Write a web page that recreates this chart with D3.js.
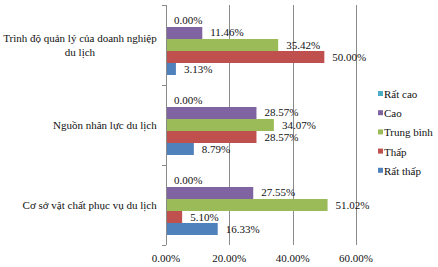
<!DOCTYPE html>
<html><head><meta charset="utf-8">
<script src="https://cdn.jsdelivr.net/npm/d3@7"></script>
<style>body{margin:0;background:#fff}svg{display:block}svg text{font-family:"Liberation Serif","Times New Roman",Times,serif;font-size:11px;fill:#111}</style>
</head><body><svg id="c" width="438" height="267"></svg>
<script>
const categories = ["Trình độ quản lý của doanh nghiệp du lịch", "Nguồn nhân lực du lịch", "Cơ sở vật chất phục vụ du lịch"];
const categoryLines = [["Trình độ quản lý của doanh nghiệp", "du lịch"], ["Nguồn nhân lực du lịch"], ["Cơ sở vật chất phục vụ du lịch"]];
const seriesNames = ["Rất cao", "Cao", "Trung bình", "Thấp", "Rất thấp"];
const seriesColors = ["#4BACC6", "#8064A2", "#9BBB59", "#C0504D", "#4F81BD"];
const ratCao = [0.00, 0.00, 0.00];
const cao = [11.46, 28.57, 27.55];
const trungBinh = [35.42, 34.07, 51.02];
const thap = [50.00, 28.57, 5.10];
const ratThap = [3.13, 8.79, 16.33];
const seriesValues = [ratCao, cao, trungBinh, thap, ratThap];
const xTicks = [0, 20, 40, 60];

const svg = d3.select("#c");
const pLeft = 166, pRight = 356, pTop = 5, pBottom = 245;

const x = d3.scaleLinear().domain([0, 60]).range([pLeft, pRight]);
const y = d3.scaleBand().domain(categories).range([pTop, pBottom]);
const yi = d3.scaleBand().domain(seriesNames).range([0, y.bandwidth()]).paddingOuter(0.833);

// gridlines
svg.append("g").selectAll("line").data(xTicks.slice(1)).join("line")
  .attr("x1", d => Math.round(x(d)) + 0.5).attr("x2", d => Math.round(x(d)) + 0.5)
  .attr("y1", pTop).attr("y2", pBottom)
  .attr("stroke", "#8a8a8a").attr("stroke-width", 1);

// bars
const groups = svg.append("g").selectAll("g").data(categories).join("g")
  .attr("transform", c => `translate(0,${y(c)})`);
groups.each(function(c, ci) {
  const g = d3.select(this);
  seriesNames.forEach((s, si) => {
    const v = seriesValues[si][ci];
    g.append("rect").attr("x", x(0)).attr("y", yi(s))
      .attr("width", x(v) - x(0)).attr("height", yi.bandwidth())
      .attr("fill", seriesColors[si]);
  });
});
// labels
groups.each(function(c, ci) {
  const g = d3.select(this);
  seriesNames.forEach((s, si) => {
    const v = seriesValues[si][ci];
    g.append("text").attr("x", x(v) + 8).attr("y", yi(s) + yi.bandwidth() / 2 - 0.5)
      .attr("dominant-baseline", "central")
      .text(v.toFixed(2) + "%");
  });
});

// left axis
const ya = svg.append("g");
ya.append("line").attr("x1", pLeft + 0.5).attr("x2", pLeft + 0.5).attr("y1", pTop).attr("y2", pBottom)
  .attr("stroke", "#8a8a8a");
ya.selectAll("line.t").data(d3.range(categories.length + 1)).join("line").attr("class", "t")
  .attr("x1", pLeft - 4).attr("x2", pLeft)
  .attr("y1", i => Math.round(pTop + i * y.step()) + 0.5).attr("y2", i => Math.round(pTop + i * y.step()) + 0.5)
  .attr("stroke", "#8a8a8a");
categories.forEach((c, ci) => {
  const lines = categoryLines[ci];
  const t = svg.append("text").attr("text-anchor", "middle");
  const cy = y(c) + y.bandwidth() / 2;
  const lh = 13.5;
  lines.forEach((ln, li) => {
    t.append("tspan").attr("x", 0).attr("y", cy + (li - (lines.length - 1) / 2) * lh + 4).text(ln);
  });
  const w = t.node().getBBox().width;
  t.selectAll("tspan").attr("x", 157 - w / 2);
});

// bottom axis labels
svg.append("g").selectAll("text").data(xTicks).join("text")
  .attr("x", d => x(d)).attr("y", 262)
  .attr("text-anchor", "middle")
  .text(d => d.toFixed(2) + "%");

// legend
const lg = svg.append("g");
seriesNames.forEach((s, i) => {
  const ly = 94 + i * 19.2;
  lg.append("rect").attr("x", 378).attr("y", ly - 3).attr("width", 5).attr("height", 5).attr("fill", seriesColors[i]);
  lg.append("text").attr("x", 384).attr("y", ly).attr("dominant-baseline", "central").text(s);
});
</script></body></html>
